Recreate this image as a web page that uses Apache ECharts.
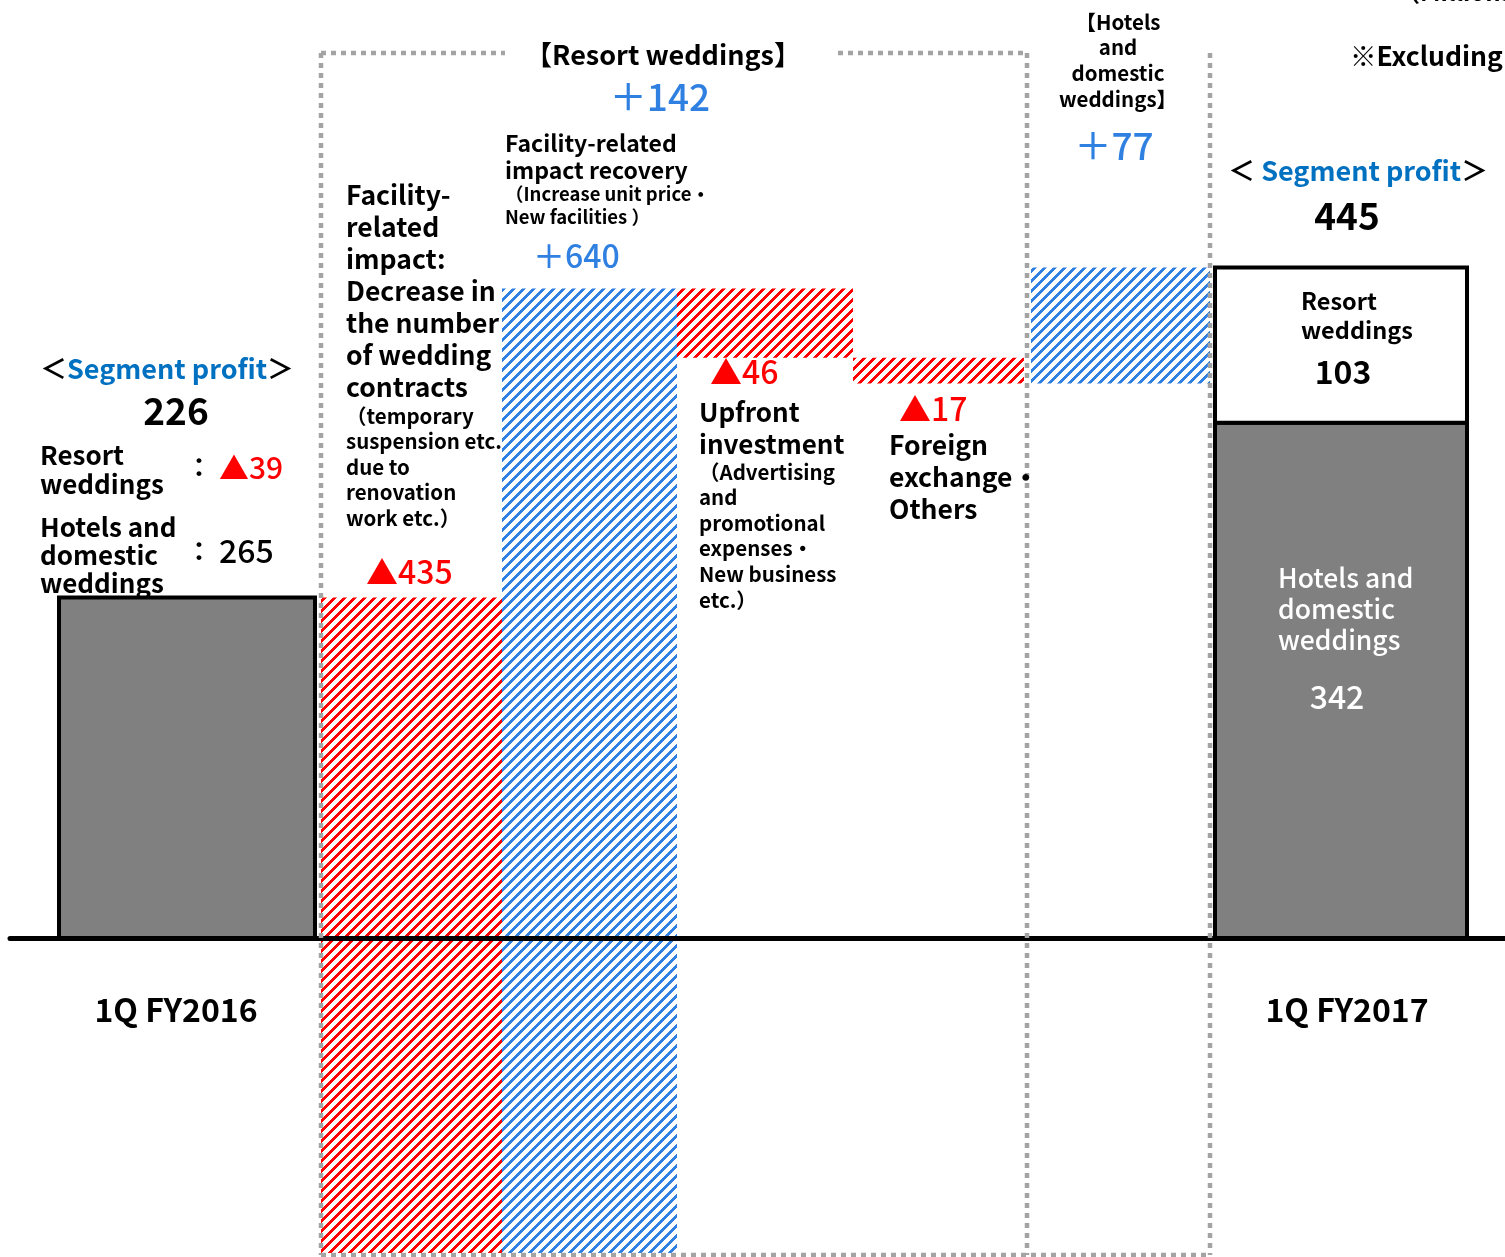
<!DOCTYPE html>
<html><head><meta charset="utf-8">
<script src="https://cdn.jsdelivr.net/npm/echarts@6/dist/echarts.min.js"></script>
<style>html,body{margin:0;padding:0;background:#fff;}#c{width:1505px;height:1257px;}</style>
</head><body><div id="c"></div>
<script>
// ---------- data ----------
const categories = ['1Q FY2016', 'Facility-related impact: Decrease in the number of wedding contracts', 'Facility-related impact recovery', 'Upfront investment', 'Foreign exchange・Others', 'Hotels and domestic weddings', '1Q FY2017'];
const startTotal = 226;
const startResort = -39;
const startHotels = 265;
const deltas = [-435, 640, -46, -17, 77];
const endHotels = 342;
const endResort = 103;
const resortChange = 142;
const hotelsChange = 77;

// ---------- layout (styles / positions, not data) ----------
const FONT = '"Noto Sans CJK JP","Noto Sans",sans-serif';
const RED = '#FF0000', BLUE = '#2F80E0', SEG_BLUE = '#0070C0', GRAY = '#808080', DOT = '#A3A3A3';
// bar left/right edges relative to category band centre (in band widths)
const SPAN = [[-0.2706, 0.9281], [-0.0438, 0.8037], [-0.1963, 0.6231], [-0.3769, 0.4472], [-0.5528, 0.2478], [-0.7194, 0.1187], [-0.8578, 0.3221]];

function hatch(color) {
  const s = 10, cv = document.createElement('canvas');
  cv.width = s; cv.height = s;
  const g = cv.getContext('2d');
  g.fillStyle = color;
  for (let y = 0; y < s; y++) for (let x = 0; x < s; x++) {
    if ((x + y) % s < 4) g.fillRect(x, y, 1, 1);
  }
  return cv;
}
const redHatch = hatch(RED), blueHatch = hatch(BLUE);

// ---------- build bar items ----------
const items = [];
items.push({ value: [0, 0, startTotal], kind: 'total' });
let cum = startTotal;
deltas.forEach((d, k) => {
  items.push({ value: [k + 1, cum, cum + d], kind: d < 0 ? 'down' : 'up' });
  cum += d;
});
items.push({ value: [6, 0, endHotels], kind: 'total' });
items.push({ value: [6, endHotels, endHotels + endResort], kind: 'white' });

function fmtDelta(v) { return v < 0 ? '▲' + Math.abs(v) : '＋' + v; }

function txt(text, x, y, size, opt) {
  opt = opt || {};
  return {
    type: 'text', z: 50,
    style: {
      text: text, x: x, y: y,
      fill: opt.fill || '#000',
      font: (opt.weight || 'bold') + ' ' + size + 'px ' + FONT,
      align: opt.align || 'left',
      verticalAlign: opt.va || 'middle',
      lineHeight: opt.lh,
      rich: opt.rich
    }
  };
}
function dotted(x1, y1, x2, y2) {
  return { type: 'line', z: 40, shape: { x1, y1, x2, y2 }, style: { stroke: DOT, lineWidth: 4.5, lineDash: [5, 5] } };
}
const segRich = (size) => ({
  k: { fill: '#000', font: 'bold ' + size + 'px ' + FONT },
  b: { fill: SEG_BLUE, font: 'bold ' + size + 'px ' + FONT }
});

const graphics = [
  dotted(321, 53, 505, 53), dotted(838, 53, 1027, 53),
  dotted(321, 53, 321, 1255), dotted(1027, 53, 1027, 1255),
  dotted(1210, 53, 1210, 1255), dotted(321, 1255, 1210, 1255),

  // left total
  txt('{k|＜}{b|Segment profit}{k|＞}', 40, 369, 27, { rich: segRich(27) }),
  txt(String(startTotal), 176, 411, 37, { align: 'center' }),
  txt('Resort\nweddings', 40, 440.5, 26, { va: 'top', lh: 29 }),
  txt('：', 186, 467, 26),
  txt(fmtDelta(startResort), 219, 468, 30, { fill: RED, weight: 500 }),
  txt('Hotels and\ndomestic\nweddings', 40, 513, 26, { va: 'top', lh: 28 }),
  txt('：', 186, 551, 26),
  txt(String(startHotels), 219, 551, 32, { weight: 500 }),
  txt(categories[0], 176, 1010, 32, { align: 'center' }),

  // resort box
  txt('【Resort weddings】', 663, 55, 27, { align: 'center' }),
  txt(fmtDelta(resortChange), 660, 97, 37, { align: 'center', fill: BLUE, weight: 500 }),
  txt('Facility-\nrelated\nimpact:\nDecrease in\nthe number\nof wedding\ncontracts', 346, 179, 26.5, { va: 'top', lh: 32 }),
  txt('（temporary\nsuspension etc.\ndue to\nrenovation\nwork etc.）', 346, 403, 20.5, { va: 'top', lh: 25.5 }),
  txt(fmtDelta(deltas[0]), 366, 572, 32, { fill: RED, weight: 500 }),
  txt('Facility-related\nimpact recovery', 505, 129.5, 23, { va: 'top', lh: 27 }),
  txt('（Increase unit price・\nNew facilities ）', 505, 182.5, 18.5, { va: 'top', lh: 23 }),
  txt(fmtDelta(deltas[1]), 533, 256, 32, { fill: BLUE, weight: 500 }),
  txt(fmtDelta(deltas[2]), 710, 372, 32, { fill: RED, weight: 500 }),
  txt('Upfront\ninvestment', 699, 396, 26, { va: 'top', lh: 32 }),
  txt('（Advertising\nand\npromotional\nexpenses・\nNew business\netc.）', 699, 459, 20.5, { va: 'top', lh: 25.6 }),
  txt(fmtDelta(deltas[3]), 899, 409, 32, { fill: RED, weight: 500 }),
  txt('Foreign\nexchange・\nOthers', 889, 429, 26.5, { va: 'top', lh: 32 }),

  // hotels box
  txt('【Hotels\nand\ndomestic\nweddings】', 1118, 9, 20.5, { align: 'center', va: 'top', lh: 25.7 }),
  txt(fmtDelta(hotelsChange), 1114, 146, 37, { align: 'center', fill: BLUE, weight: 500 }),

  // right total
  txt('（Millions of yen）', 1396, -8, 24),
  txt('※Excluding', 1350, 56, 26.5),
  txt('{k|＜ }{b|Segment profit}{k|＞}', 1228, 171, 27, { rich: segRich(27) }),
  txt(String(endHotels + endResort), 1347, 216, 37, { align: 'center' }),
  txt('Resort\nweddings', 1301, 286.5, 23.5, { va: 'top', lh: 29 }),
  txt(String(endResort), 1343, 372, 32, { align: 'center' }),
  txt('Hotels and\ndomestic\nweddings', 1278, 562.5, 26.5, { va: 'top', lh: 31, fill: '#fff', weight: 500 }),
  txt(String(endHotels), 1337, 697, 32, { align: 'center', fill: '#fff', weight: 500 }),
  txt(categories[6], 1347, 1010, 32, { align: 'center' })
];

const chart = echarts.init(document.getElementById('c'), null, { renderer: 'canvas' });
chart.setOption({
  animation: false,
  backgroundColor: '#fff',
  grid: { left: 10, right: 0, top: 3.7, height: 1265.9, outerBoundsMode: 'none' },
  xAxis: {
    type: 'category', data: categories, z: 10,
    axisLine: { onZero: true, lineStyle: { color: '#000', width: 5 } },
    axisTick: { show: false }, axisLabel: { show: false }, splitLine: { show: false }
  },
  yAxis: { type: 'value', min: -220, max: 620, show: false, splitLine: { show: false } },
  series: [{
    type: 'custom', z: 2,
    data: items,
    renderItem: function (params, api) {
      const i = api.value(0), lo = api.value(1), hi = api.value(2);
      const kind = items[params.dataIndex].kind;
      const c = api.coord([i, 0])[0];
      const band = api.size([1, 0])[0];
      const x0 = c + SPAN[i][0] * band, x1 = c + SPAN[i][1] * band;
      const y0 = api.coord([i, lo])[1], y1 = api.coord([i, hi])[1];
      const shape = { x: x0, y: Math.min(y0, y1), width: x1 - x0, height: Math.abs(y1 - y0) };
      let style;
      if (kind === 'total') style = { fill: GRAY, stroke: '#000', lineWidth: 4 };
      else if (kind === 'white') style = { fill: '#fff', stroke: '#000', lineWidth: 4 };
      else style = { fill: { image: kind === 'down' ? redHatch : blueHatch, repeat: 'repeat' } };
      return { type: 'rect', shape: shape, style: style };
    }
  }],
  graphic: graphics
});
</script>
</body></html>
